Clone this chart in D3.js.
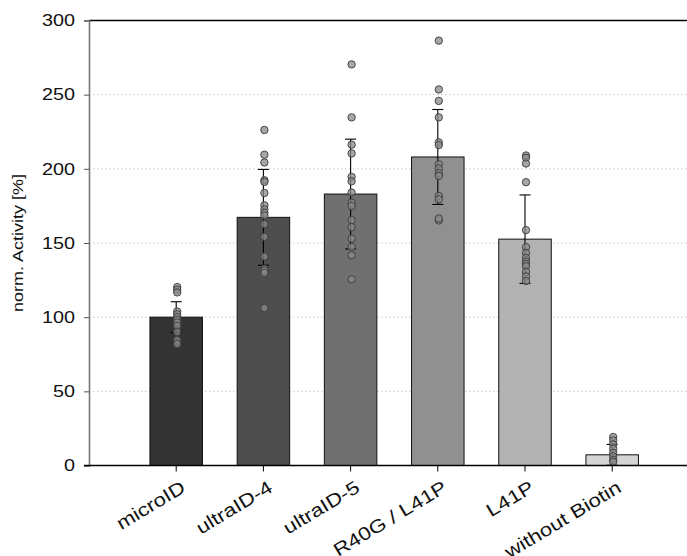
<!DOCTYPE html>
<html>
<head>
<meta charset="utf-8">
<script src="https://cdn.jsdelivr.net/npm/d3@7"></script>
<style>
  html, body { margin: 0; padding: 0; background: #fff; }
  svg { display: block; font-family: "Liberation Sans", Arial, sans-serif; }
</style>
</head>
<body>
<div id="chart"></div>
<script>
// --- data ---
const categories = ['microID', 'ultraID-4', 'ultraID-5', 'R40G / L41P', 'L41P', 'without Biotin'];
const means = [100, 167.3, 183, 208, 152.6, 7.2];
const sds = [10.4, 32.3, 37, 32, 29.8, 7];
const barColors = ['#333333', '#4e4e4e', '#707070', '#909090', '#b2b2b2', '#d4d4d4'];
const replicates = [
  [120.3, 118.5, 116.7, 103.8, 102, 100, 98.2, 96.4, 94.1, 90, 84.6, 81.9],
  [226.2, 209.5, 204.3, 192.3, 191.2, 183.7, 175.4, 172.7, 170.4, 168.6, 162.7, 154.2, 140.9, 132.7, 131.4, 129.8, 106.1],
  [270.4, 234.7, 216.3, 210.4, 194.6, 191.6, 184, 177.2, 174.9, 165.4, 160.7, 153, 147.4, 141.7, 125.5],
  [286.4, 253.5, 245.8, 234.7, 217.8, 216, 203.1, 200.2, 197.1, 195.2, 181.7, 179.4, 165.2, 166.5],
  [209, 207.5, 203.6, 191, 158.7, 147.2, 143.3, 140, 137.5, 135.9, 134.3, 130.5, 127.5, 124.4],
  [19.2, 16.9, 14.2, 11.3, 8.6, 6.1, 3.8, 2.5]
];
const yTicks = [0, 50, 100, 150, 200, 250, 300];
const yLabel = 'norm. Activity [%]';

const W = 687, H = 556;
const m = { l: 89, t: 20.5, b: 90.5 };
const plotH = H - m.t - m.b;
const stretch = 1.2;   // the original lettering is set wide

const svg = d3.select('#chart').append('svg')
  .attr('width', W).attr('height', H).attr('viewBox', `0 0 ${W} ${H}`);

// positions 1..6 on a 0..7 axis, right side runs off the picture
const x = d3.scaleLinear().domain([0, 7]).range([m.l, m.l + 7 * 87.2]);
const y = d3.scaleLinear().domain([0, 300]).range([m.t + plotH, m.t]);
const barW = 52.5;

// grid
svg.append('g')
  .selectAll('line').data(yTicks.filter(d => d > 0 && d < 300)).join('line')
  .attr('x1', m.l).attr('x2', W)
  .attr('y1', d => y(d)).attr('y2', d => y(d))
  .attr('stroke', '#c8c8c8').attr('stroke-width', 1)
  .attr('stroke-dasharray', '1.5,2.5');

// top frame line
svg.append('line')
  .attr('x1', m.l).attr('x2', W).attr('y1', y(300)).attr('y2', y(300))
  .attr('stroke', '#000').attr('stroke-width', 1.4);

// bars
svg.append('g').selectAll('rect').data(means).join('rect')
  .attr('x', (d, i) => x(i + 1) - barW / 2)
  .attr('y', d => y(d))
  .attr('width', barW)
  .attr('height', d => y(0) - y(d))
  .attr('fill', (d, i) => barColors[i])
  .attr('stroke', '#111').attr('stroke-width', 1);

// error bars
const eb = svg.append('g').attr('stroke', '#000').attr('stroke-width', 1.1);
means.forEach((mu, i) => {
  const cx = x(i + 1);
  const lo = Math.max(0, mu - sds[i]), hi = mu + sds[i];
  eb.append('line').attr('x1', cx).attr('x2', cx).attr('y1', y(lo)).attr('y2', y(hi));
  eb.append('line').attr('x1', cx - 5.5).attr('x2', cx + 5.5).attr('y1', y(hi)).attr('y2', y(hi));
  eb.append('line').attr('x1', cx - 5.5).attr('x2', cx + 5.5).attr('y1', y(lo)).attr('y2', y(lo));
});

// replicate points
const pts = replicates.flatMap((arr, i) => arr.map(v => ({ i, v })));
svg.append('g').selectAll('circle').data(pts).join('circle')
  .attr('cx', d => x(d.i + 1) + 1)
  .attr('cy', d => y(d.v))
  .attr('r', 3.7)
  .attr('fill', '#8a8a8a').attr('fill-opacity', 0.75)
  .attr('stroke', '#3a3a3a').attr('stroke-width', 0.9);

// y axis
const yAxis = svg.append('g').attr('transform', `translate(${m.l},0)`)
  .call(d3.axisLeft(y).tickValues(yTicks).tickSize(5).tickPadding(9));
yAxis.select('.domain').attr('stroke', '#777').attr('stroke-width', 1.6);
yAxis.selectAll('.tick line').attr('stroke', '#555');
yAxis.selectAll('.tick text')
  .attr('x', -14 / stretch)
  .attr('transform', `scale(${stretch},1)`)
  .attr('font-size', 16.5).attr('fill', '#111')
  .attr('font-family', '"Liberation Sans", Arial, sans-serif');

// x axis
svg.append('line')
  .attr('x1', m.l - 5).attr('x2', W).attr('y1', y(0)).attr('y2', y(0))
  .attr('stroke', '#000').attr('stroke-width', 1.4);
const xa = svg.append('g');
categories.forEach((c, i) => {
  const cx = x(i + 1);
  xa.append('line').attr('x1', cx).attr('x2', cx).attr('y1', y(0)).attr('y2', y(0) + 6)
    .attr('stroke', '#000').attr('stroke-width', 1);
  xa.append('text')
    .attr('transform', `translate(${cx + 3},${y(0) + 13}) rotate(-31) scale(${stretch},1)`)
    .attr('text-anchor', 'end').attr('dy', '0.78em')
    .attr('font-size', 18.5).attr('fill', '#111')
    .text(c);
});

// y label
svg.append('text')
  .attr('transform', `translate(18,${(y(0) + y(300)) / 2}) rotate(-90) scale(${stretch},1)`)
  .attr('text-anchor', 'middle').attr('dy', '0.35em')
  .attr('font-size', 15).attr('fill', '#111')
  .text(yLabel);
</script>
</body>
</html>
